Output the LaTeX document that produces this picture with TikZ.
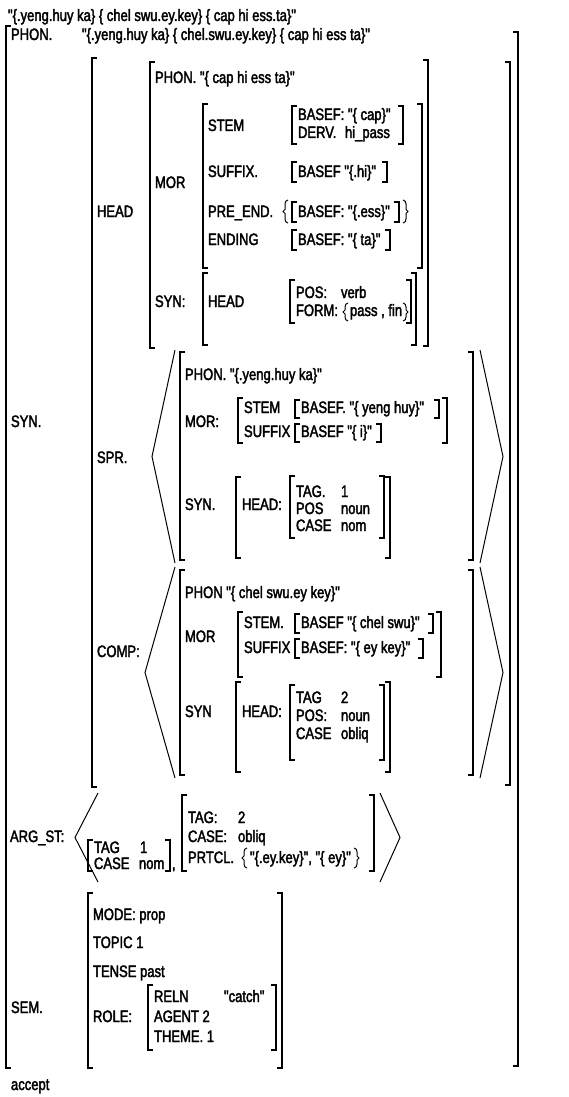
\documentclass[tikz,border=0pt]{standalone}
\usepackage{fontspec}
\newfontfamily\avm{Liberation Sans}[FakeStretch=0.79,FakeBold=2.2]
\begin{document}
\begin{tikzpicture}[x=1pt,y=-1pt,
  txt/.style={anchor=base west,inner sep=0pt,outer sep=0pt,font=\avm\fontsize{16.5}{18}\selectfont},
  br/.style={line width=1.5pt,line cap=butt,line join=miter},
  ang/.style={line width=1.0pt}]
\useasboundingbox (0,0) rectangle (568,1097);
\newcommand\LB[3]{\draw[br] (#1+5,#2) -- (#1,#2) -- (#1,#3) -- (#1+5,#3);}
\newcommand\RB[3]{\draw[br] (#1-5,#2) -- (#1,#2) -- (#1,#3) -- (#1-5,#3);}
\newcommand\LBR[3]{\draw[ang] (#1+3,#2) to[out=180,in=90] (#1,#2+4) -- (#1,{(#2+#3)/2-2}) -- (#1-2,{(#2+#3)/2}) -- (#1,{(#2+#3)/2+2}) -- (#1,#3-4) to[out=-90,in=180] (#1+3,#3);}
\newcommand\RBR[3]{\draw[ang] (#1-3,#2) to[out=0,in=90] (#1,#2+4) -- (#1,{(#2+#3)/2-2}) -- (#1+2,{(#2+#3)/2}) -- (#1,{(#2+#3)/2+2}) -- (#1,#3-4) to[out=-90,in=0] (#1-3,#3);}
\newcommand\ANG[4]{\draw[ang] (#1,#3) -- (#2,{(#3+#4)/2}) -- (#1,#4);}
% ---------- top line
\node[txt] (top) at (8,21) {"\{.yeng.huy ka\} \{ chel swu.ey.key\} \{ cap hi ess.ta\}"};
% ---------- outer matrix
\LB{6}{26}{1068}
\RB{518}{32}{1066}
\node[txt] (phonL) at (11,40) {PHON.};
\node[txt] (phonV) at (82,40) {"\{.yeng.huy ka\} \{ chel.swu.ey.key\} \{ cap hi ess ta\}"};
\node[txt] (synL) at (11,427) {SYN.};
\node[txt] (argL) at (10,842) {ARG\_ST:};
\node[txt] (semL) at (11,1013) {SEM.};
\node[txt] (acc) at (11,1090) {accept};
% ---------- SYN value
\LB{92}{58}{787}
\RB{510}{62}{785}
\node[txt] (headL) at (97,217) {HEAD};
\node[txt] (sprL) at (97,463) {SPR.};
\node[txt] (compL) at (97,657) {COMP:};
% ---------- HEAD value
\LB{150}{62}{348}
\RB{428}{60}{346}
\node[txt] (hphon) at (155,83) {PHON. "\{ cap hi ess ta\}"};
\node[txt] (hmor) at (155,188) {MOR};
\LB{203}{104}{268}
\RB{422}{104}{268}
\node[txt] (stem1) at (208,131) {STEM};
\LB{292}{106}{144}
\RB{403}{106}{144}
\node[txt] (bcap) at (298,120) {BASEF: "\{ cap\}"};
\node[txt] (derv) at (298,138) {DERV.};
\node[txt] (hipass) at (345,138) {hi\_pass};
\node[txt] (suf1) at (208,177) {SUFFIX.};
\LB{292}{162}{182}
\RB{387}{162}{182}
\node[txt] (bhi) at (298,177) {BASEF "\{.hi\}"};
\node[txt] (pre1) at (208,217) {PRE\_END.};
\LBR{285}{200}{223}
\LB{292}{202}{222}
\node[txt] (bess) at (298,217) {BASEF: "\{.ess\}"};
\RB{399}{202}{222}
\RBR{406}{200}{223}
\node[txt] (end1) at (208,245) {ENDING};
\LB{292}{230}{250}
\RB{390}{230}{250}
\node[txt] (bta) at (298,245) {BASEF: "\{ ta\}"};
\node[txt] (hsyn) at (155,307) {SYN:};
\LB{203}{273}{345}
\RB{416}{273}{345}
\node[txt] (hhead) at (208,307) {HEAD};
\LB{290}{280}{323}
\RB{411}{280}{323}
\node[txt] (pos1) at (296,298) {POS:};
\node[txt] (verb) at (341,298) {verb};
\node[txt] (form1) at (296,316) {FORM:};
\LBR{345}{303}{321}
\node[txt] (passfin) at (350,316) {pass , fin};
\RBR{406}{303}{321}
% ---------- SPR
\ANG{175}{152}{350}{563}
\ANG{480}{503}{350}{563}
\LB{180}{352}{560}
\RB{473}{352}{560}
\node[txt] (sphon) at (185,380) {PHON. "\{.yeng.huy ka\}"};
\node[txt] (smor) at (185,427) {MOR:};
\LB{238}{398}{443}
\RB{447}{398}{443}
\node[txt] (sstem) at (244,413) {STEM};
\LB{295}{400}{418}
\RB{439}{400}{418}
\node[txt] (syh) at (301,413) {BASEF. "\{ yeng huy\}"};
\node[txt] (ssuf) at (244,437) {SUFFIX};
\LB{295}{424}{442}
\RB{381}{424}{442}
\node[txt] (si) at (301,437) {BASEF "\{ i\}"};
\node[txt] (ssyn) at (185,510) {SYN.};
\LB{236}{477}{558}
\RB{390}{477}{558}
\node[txt] (shead) at (242,510) {HEAD:};
\LB{290}{476}{538}
\RB{384}{476}{538}
\node[txt] (stag) at (296,497) {TAG.};
\node[txt] (stagv) at (341,497) {1};
\node[txt] (spos) at (296,514) {POS};
\node[txt] (sposv) at (341,514) {noun};
\node[txt] (scase) at (296,531) {CASE};
\node[txt] (scasev) at (341,531) {nom};
% ---------- COMP
\ANG{175}{145}{567}{778}
\ANG{480}{503}{567}{778}
\LB{180}{570}{775}
\RB{473}{570}{775}
\node[txt] (cphon) at (185,598) {PHON "\{ chel swu.ey key\}"};
\node[txt] (cmor) at (185,642) {MOR};
\LB{238}{612}{677}
\RB{441}{612}{677}
\node[txt] (cstem) at (244,628) {STEM.};
\LB{295}{614}{633}
\RB{433}{614}{633}
\node[txt] (ccs) at (301,628) {BASEF "\{ chel swu\}"};
\node[txt] (csuf) at (244,653) {SUFFIX};
\LB{295}{639}{658}
\RB{423}{639}{658}
\node[txt] (cek) at (301,653) {BASEF: "\{ ey key\}"};
\node[txt] (csyn) at (185,717) {SYN};
\LB{236}{682}{772}
\RB{390}{682}{772}
\node[txt] (chead) at (242,717) {HEAD:};
\LB{290}{685}{760}
\RB{384}{685}{760}
\node[txt] (ctag) at (296,703) {TAG};
\node[txt] (ctagv) at (341,703) {2};
\node[txt] (cpos) at (296,721) {POS:};
\node[txt] (cposv) at (341,721) {noun};
\node[txt] (ccase) at (296,739) {CASE};
\node[txt] (ccasev) at (341,739) {obliq};
% ---------- ARG_ST
\ANG{98}{75}{793}{882}
\LB{88}{840}{871}
\node[txt] (atag) at (94,853) {TAG};
\node[txt] (atagv) at (140,853) {1};
\node[txt] (acase) at (94,869) {CASE};
\node[txt] (acasev) at (139,869) {nom};
\RB{170}{840}{871}
\node[txt] (comma) at (172,869) {,};
\LB{182}{795}{871}
\node[txt] (btag) at (188,823) {TAG:};
\node[txt] (btagv) at (238,823) {2};
\node[txt] (bcase) at (188,842) {CASE:};
\node[txt] (bcasev) at (238,842) {obliq};
\node[txt] (bprt) at (188,863) {PRTCL.};
\LBR{244}{848}{868}
\node[txt] (bprtv) at (250,863) {"\{.ey.key\}", "\{ ey\}"};
\RBR{357}{848}{868}
\RB{374}{795}{871}
\ANG{380}{400}{793}{882}
% ---------- SEM
\LB{88}{893}{1068}
\RB{282}{893}{1068}
\node[txt] (mode) at (93,920) {MODE: prop};
\node[txt] (topic) at (93,948) {TOPIC 1};
\node[txt] (tense) at (93,977) {TENSE past};
\node[txt] (role) at (93,1022) {ROLE:};
\LB{148}{985}{1050}
\RB{276}{985}{1050}
\node[txt] (reln) at (154,1002) {RELN};
\node[txt] (relnv) at (224,1002) {"catch"};
\node[txt] (agent) at (154,1022) {AGENT 2};
\node[txt] (theme) at (154,1042) {THEME. 1};
\end{tikzpicture}
\end{document}
